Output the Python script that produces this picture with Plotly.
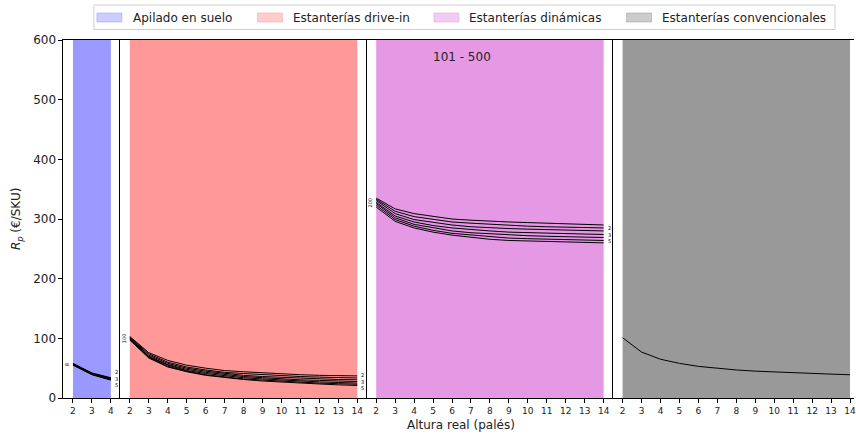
import plotly.graph_objects as go

# ---------------- data ----------------
heights_p1 = [2, 3, 4]
heights = [2, 3, 4, 5, 6, 7, 8, 9, 10, 11, 12, 13, 14]

series_labels = ["2", "3", "5", "10", "20", "50", "100"]
start_labels = ["8", "100", "200", ""]

apilado = [
    [58, 42, 34],
    [57.5, 41.5, 33],
    [57, 41, 32.5],
    [56.5, 40.5, 32],
    [56, 40, 31],
    [55.5, 39.5, 30.5],
    [55, 39, 30],
]

drive_in = [
    [103, 76, 63, 55, 50, 46, 44, 42, 40, 39, 38, 37.5, 37],
    [102, 74, 60, 52, 47, 43, 41, 39, 37, 36, 35, 34, 33.5],
    [101, 72, 58, 50, 45, 41, 38, 36, 34.5, 33, 32, 31, 30.5],
    [100, 70, 56, 48, 43, 39, 36, 34, 32, 30.5, 29.5, 28.5, 27.5],
    [99, 69, 55, 46, 41, 37, 34, 32, 30, 28.5, 27, 26, 25],
    [98, 68, 53, 45, 39, 35, 32, 30, 28, 26.5, 25, 24, 23],
    [97, 67, 52, 44, 38, 34, 31, 28.5, 26.5, 25, 23.5, 22, 21],
]

dinamicas = [
    [335, 317, 309, 304, 300, 298, 296, 295, 294, 293, 292, 291, 290],
    [333, 313, 304, 299, 295, 293, 291, 289, 288, 287, 286, 285.5, 285],
    [331, 309, 299, 294, 290, 287, 285, 284, 283, 282, 281, 280.5, 280],
    [328, 305, 295, 289, 285, 282, 280, 278, 277, 276, 275, 274.5, 274],
    [326, 302, 291, 285, 280, 277, 275, 273, 272, 271, 270, 269.5, 269],
    [323, 299, 288, 281, 276, 273, 270, 268, 267, 266, 265, 264.5, 264],
    [320, 296, 285, 278, 273, 269, 266, 264, 263, 262, 261, 260.5, 260],
]

convencionales = [101, 77, 65, 58, 53, 49.5, 47, 45, 43.5, 42, 41, 40, 39]

legend_names = ["Apilado en suelo", "Estanterías drive-in",
                "Estanterías dinámicas", "Estanterías convencionales"]
span_colors = ["#9999ff", "#ff9999", "#e599e5", "#999999"]
legend_colors = ["#ccccff", "#ffcccc", "#f2ccf2", "#cccccc"]

y_ticks = [0, 100, 200, 300, 400, 500, 600]
panel_title = "101 - 500"

# ---------------- layout helpers ----------------
W, H = 856, 438
L, T, B = 63, 40, 398
PW = W - L
PH = B - T


def px(x):
    return (x - L) / PW


def py(y):
    return (B - y) / PH


panels = [
    dict(dom=(63.5, 120.5), rng=[1.5, 4.5], ticks=heights_p1, span=(2, 4)),
    dict(dom=(120.5, 367.5), rng=[1.5, 14.5], ticks=heights, span=(2, 14)),
    dict(dom=(367.5, 614.5), rng=[1.5, 14.5], ticks=heights, span=(2, 14)),
    dict(dom=(614.5, 856), rng=[1.5, 14.21], ticks=heights, span=(2, 14)),
]

fig = go.Figure()
annotations = []

groups = [(heights_p1, apilado), (heights, drive_in), (heights, dinamicas), (heights, [convencionales])]

for i, (xs, lines) in enumerate(groups):
    xa = "x" if i == 0 else f"x{i+1}"
    ya = "y" if i == 0 else f"y{i+1}"
    for ln in lines:
        fig.add_trace(go.Scatter(x=xs, y=ln, mode="lines", xaxis=xa, yaxis=ya,
                                 line=dict(color="black", width=1), showlegend=False,
                                 hoverinfo="skip"))
    if len(lines) > 1:
        starts = [ln[0] for ln in lines]
        ends = [ln[-1] for ln in lines]
        # start label: rotated tiny text block
        annotations.append(dict(x=xs[0], y=sum(starts) / len(starts), xref=xa, yref=ya,
                                text=start_labels[i], showarrow=False,
                                font=dict(size=5, color="black"), textangle=-90,
                                xanchor="right", yanchor="middle", xshift=-1))
        # end labels stacked in a single tiny block
        annotations.append(dict(x=xs[-1], y=sum(ends) / len(ends), xref=xa, yref=ya,
                                text="<br>".join(series_labels[:3]), showarrow=False,
                                font=dict(size=5, color="black"), align="left",
                                xanchor="left", yanchor="middle", xshift=2))

layout = dict(
    width=W, height=H,
    margin=dict(l=L, r=0, t=T, b=H - B, pad=0),
    paper_bgcolor="white", plot_bgcolor="white",
    font=dict(family="DejaVu Sans", color="black"),
    showlegend=False,
)

shapes = []
for i, p in enumerate(panels):
    key = "" if i == 0 else str(i + 1)
    layout["xaxis" + key] = dict(
        domain=[px(p["dom"][0]), px(p["dom"][1])], range=p["rng"],
        anchor="y" + key, tickmode="array", tickvals=p["ticks"],
        ticktext=[str(t) for t in p["ticks"]], ticks="outside", ticklen=4,
        tickcolor="black", tickfont=dict(size=9, color="#222"), showgrid=False,
        zeroline=False, showline=True, linecolor="black", linewidth=1, mirror=True,
        ticklabeloverflow="allow",
    )
    layout["yaxis" + key] = dict(
        domain=[0, 1], range=[0, 600], anchor="x" + key, showgrid=False, zeroline=False,
        showline=True, linecolor="black", linewidth=1, mirror=False,
        tickmode="array", tickvals=y_ticks,
        ticks="outside" if i == 0 else "", ticklen=4, tickcolor="black",
        showticklabels=(i == 0), tickfont=dict(size=12, color="#222"),
    )
    shapes.append(dict(type="rect", xref="x" + key, yref="y" + key,
                       x0=p["span"][0], x1=p["span"][1], y0=0, y1=600,
                       fillcolor=span_colors[i], line=dict(width=0), layer="below"))

# manual legend
shapes.append(dict(type="rect", xref="paper", yref="paper",
                   x0=px(94), x1=px(837), y0=py(5), y1=py(29.5),
                   fillcolor="white", line=dict(color="#d0d0d0", width=1), layer="above"))
patch_x = [97, 258, 435, 628]
text_x = [131, 292, 468, 662]
for k in range(4):
    shapes.append(dict(type="rect", xref="paper", yref="paper",
                       x0=px(patch_x[k]), x1=px(patch_x[k] + 25), y0=py(13), y1=py(22),
                       fillcolor=legend_colors[k], line=dict(color=span_colors[k], width=0.5),
                       layer="above"))
    annotations.append(dict(x=px(text_x[k]), y=py(17.5), xref="paper", yref="paper",
                            text=legend_names[k], showarrow=False, xanchor="left",
                            yanchor="middle", font=dict(size=12, color="#222")))

annotations.append(dict(x=px(462), y=py(425), xref="paper", yref="paper",
                        text="Altura real (palés)", showarrow=False, xanchor="center",
                        yanchor="middle", font=dict(size=12, color="#222")))
annotations.append(dict(x=px(17), y=py(219), xref="paper", yref="paper",
                        text="<i>R</i><sub><i>p</i></sub> (€/SKU)", showarrow=False,
                        textangle=-90, xanchor="center", yanchor="middle",
                        font=dict(size=12, color="#222")))
annotations.append(dict(x=px(463), y=py(57), xref="paper", yref="paper",
                        text=panel_title, showarrow=False, xanchor="center",
                        yanchor="middle", font=dict(size=12, color="#222")))

layout["shapes"] = shapes
layout["annotations"] = annotations
fig.update_layout(**layout)

fig.write_html("out.html")
